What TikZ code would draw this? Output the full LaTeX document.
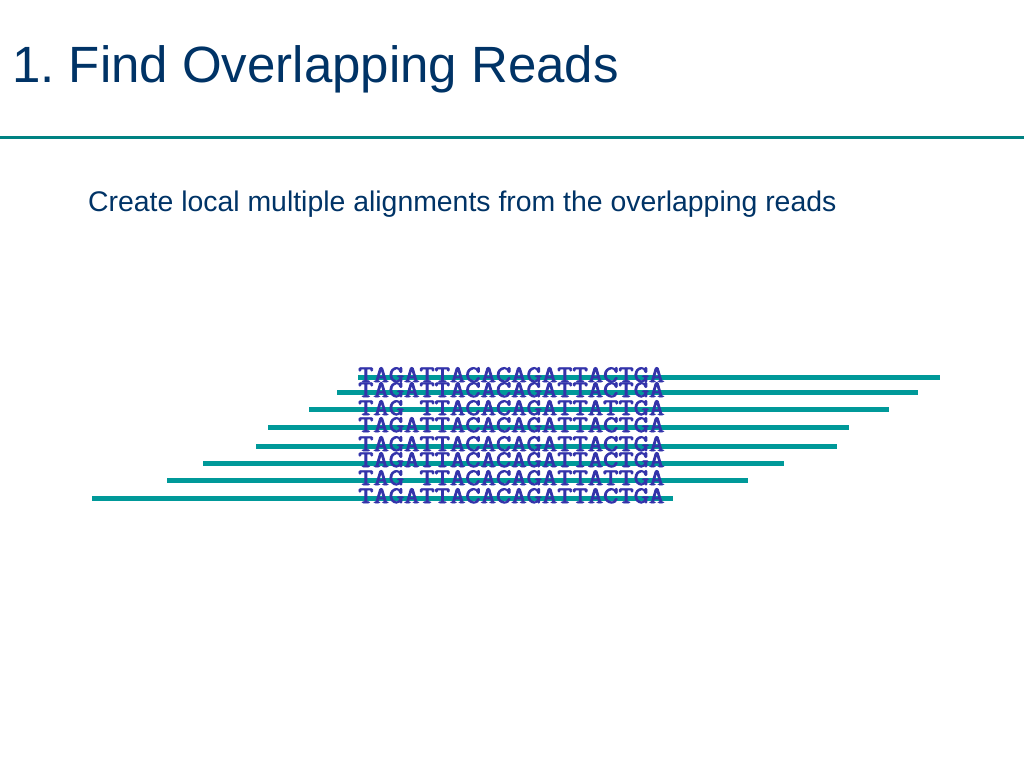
\documentclass[tikz,border=0pt]{standalone}
\usepackage{fontspec}
\setmainfont{Liberation Sans}
\newfontfamily\seqfont[FakeBold=3]{Latin Modern Mono}
\usepackage{xcolor}
\usetikzlibrary{positioning}
\definecolor{navy}{HTML}{003366}
\definecolor{teal}{HTML}{009999}
\definecolor{seqblue}{HTML}{3333AA}

\begin{document}
\begin{tikzpicture}[x=1pt, y=-1pt,
    title/.style={anchor=base west, inner sep=0pt, text=navy, font=\fontsize{51}{57}\selectfont},
    subtitle/.style={anchor=base west, inner sep=0pt, text=navy, font=\fontsize{28.4}{32}\selectfont},
    readline/.style={line width=5pt, teal},
    rule/.style={line width=3pt, teal!85!black},
    sequence/.style={anchor=base west, inner sep=0pt, text=seqblue, font=\fontsize{23.5}{23.5}\selectfont\seqfont}
]
    \useasboundingbox (0,0) rectangle (1024,768);

    % Heading
    \node [title] (heading) at (12,82) {1.\ Find Overlapping Reads};
    \coordinate (rulew) at (0,137);
    \coordinate (rulee) at (1024,137);
    \draw [rule] (rulew) -- (rulee);
    \node [subtitle] (intro) at (88,211) {Create local multiple alignments from the overlapping reads};

    % Reads
    \foreach \i/\y/\l/\r in {1/377/358/940, 2/392/337/918, 3/409/309/889, 4/427/268/849,
                             5/446/256/837, 6/463/203/784, 7/480/167/748, 8/498/92/673} {
        \coordinate (read\i w) at (\l,\y);
        \coordinate (read\i e) at (\r,\y);
        \draw [readline] (read\i w) -- (read\i e);
    }

    % Aligned sequences
    \foreach \i/\b/\s in {1/382/TAGATTACACAGATTACTGA, 2/397/TAGATTACACAGATTACTGA,
                          3/415/TAG~TTACACAGATTATTGA, 4/432/TAGATTACACAGATTACTGA,
                          5/451/TAGATTACACAGATTACTGA, 6/467/TAGATTACACAGATTACTGA,
                          7/485/TAG~TTACACAGATTATTGA, 8/503/TAGATTACACAGATTACTGA} {
        \node [sequence] (seq\i) at (358,\b) {\scalebox{1.265}[1]{\s}};
    }
\end{tikzpicture}
\end{document}
